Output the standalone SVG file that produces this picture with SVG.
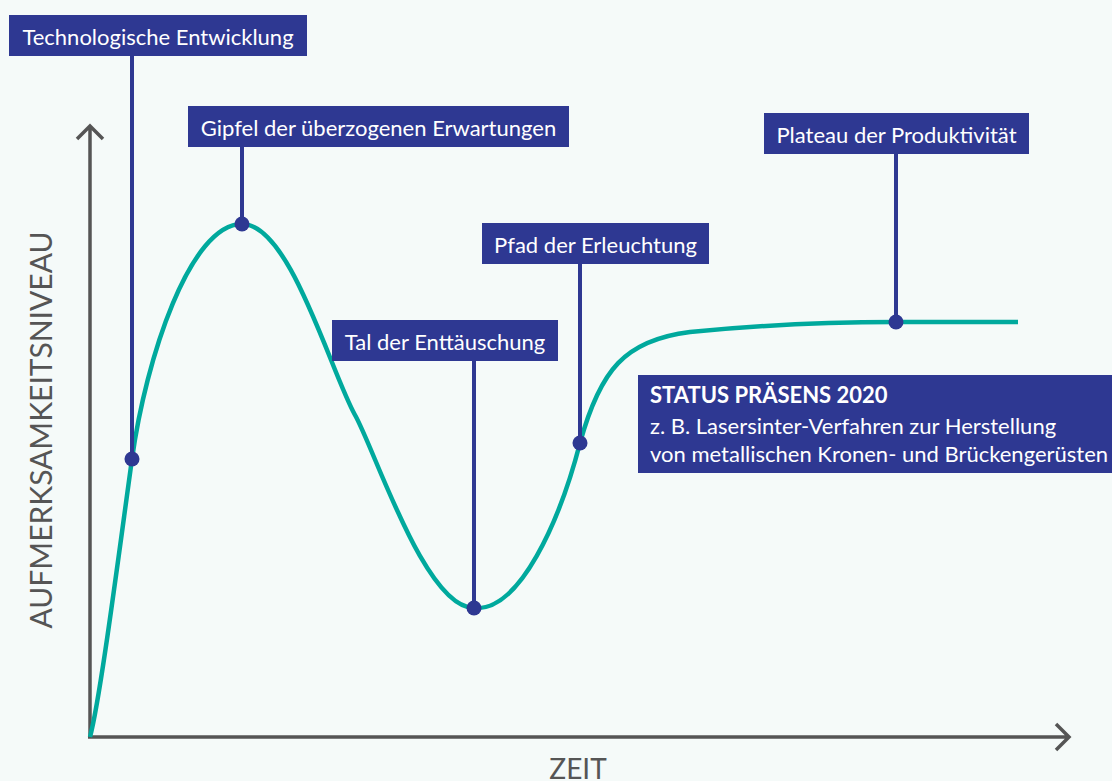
<svg xmlns="http://www.w3.org/2000/svg" width="1112" height="781" viewBox="0 0 1112 781">
<style>
.box{fill:#2e3892}
.lbl{font-family:Lato,"Open Sans",sans-serif;font-size:22px;fill:#ffffff}
.lead{stroke:#2e3892;stroke-width:4;fill:none}
.dot{fill:#2e3892}
.axis{stroke:#555555;stroke-width:3.5;fill:none}
.axlbl{font-family:Lato,"Open Sans",sans-serif;font-size:30px;fill:#555555}
</style>
<rect x="0" y="0" width="1112" height="781" fill="#f5faf9"/>
<g id="axes">
<path class="axis" d="M90,738 V126 M77,139 L90,126 L103,139"/>
<path class="axis" d="M88,737 H1069 M1056,724 L1069,737 L1056,750"/>
<text class="axlbl" transform="translate(52,430) rotate(-90)" text-anchor="middle">AUFMERKSAMKEITSNIVEAU</text>
<text class="axlbl" x="578" y="779" text-anchor="middle" style="font-size:28px">ZEIT</text>
</g>
<g id="curve">
<path d="M90,737 C100,700 118,560 132,459 C146,358 190,224 242,224 C290,224 330,370 355,415 C375,450 425,608 474,608 C520,612 560,520 580,443 C600,370 625,340 690,332 C760,325 830,322 896,322 L1018,322" fill="none" stroke="#00a99d" stroke-width="4.5" stroke-linejoin="round"/>
</g>
<g id="connectors">
<line class="lead" x1="132" y1="56" x2="132" y2="459"/>
<line class="lead" x1="242" y1="147" x2="242" y2="224"/>
<line class="lead" x1="580" y1="264" x2="580" y2="443"/>
<line class="lead" x1="474" y1="361" x2="474" y2="608"/>
<line class="lead" x1="896" y1="154" x2="896" y2="322"/>
<circle class="dot" cx="132" cy="459" r="7.5"/>
<circle class="dot" cx="242" cy="224" r="7.5"/>
<circle class="dot" cx="580" cy="443" r="7.5"/>
<circle class="dot" cx="474" cy="608" r="7.5"/>
<circle class="dot" cx="896" cy="322" r="7.5"/>
</g>
<g id="n-tech">
<rect class="box" x="9" y="15" width="298" height="41"/>
<text class="lbl" x="158" y="45" text-anchor="middle">Technologische Entwicklung</text>
</g>
<g id="n-gipfel">
<rect class="box" x="188" y="106" width="381" height="41"/>
<text class="lbl" x="378.5" y="136" text-anchor="middle">Gipfel der überzogenen Erwartungen</text>
</g>
<g id="n-pfad">
<rect class="box" x="482" y="223" width="227" height="41"/>
<text class="lbl" x="595.5" y="253" text-anchor="middle">Pfad der Erleuchtung</text>
</g>
<g id="n-tal">
<rect class="box" x="332" y="320" width="226" height="41"/>
<text class="lbl" x="445" y="350" text-anchor="middle">Tal der Enttäuschung</text>
</g>
<g id="n-plateau">
<rect class="box" x="764" y="113" width="265" height="41"/>
<text class="lbl" x="896.5" y="143" text-anchor="middle">Plateau der Produktivität</text>
</g>
<g id="n-status">
<rect class="box" x="638" y="375" width="474" height="98"/>
<text class="lbl" x="650" y="403" font-weight="bold">STATUS PRÄSENS 2020</text>
<text class="lbl" x="650" y="434">z. B. Lasersinter-Verfahren zur Herstellung</text>
<text class="lbl" x="650" y="462">von metallischen Kronen- und Brückengerüsten</text>
</g>
</svg>
